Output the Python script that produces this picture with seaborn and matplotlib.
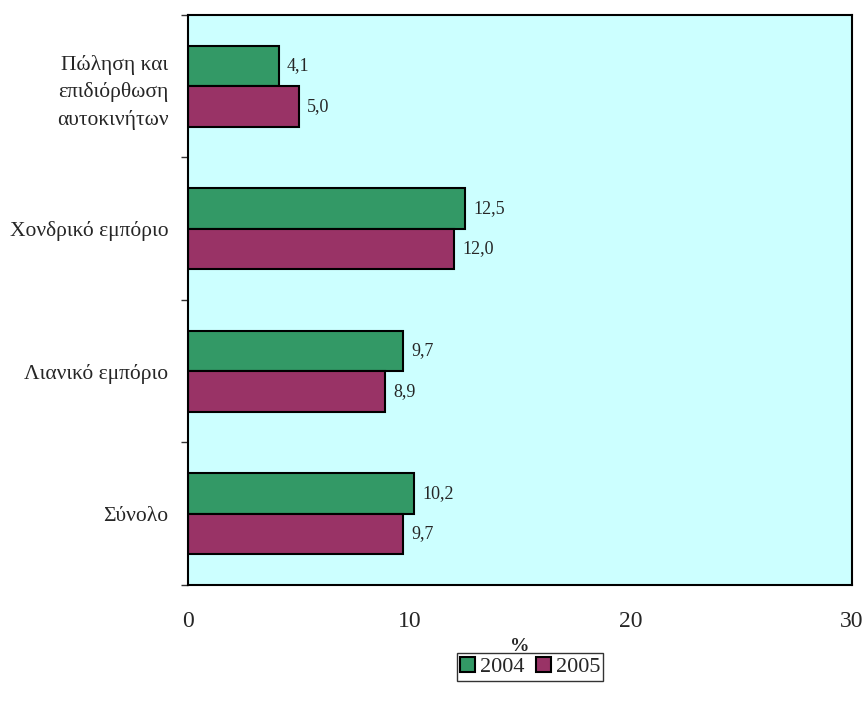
import numpy as np
import pandas as pd
import matplotlib
matplotlib.use('Agg')
import matplotlib.pyplot as plt
import seaborn as sns

sns.set_style('white')
plt.rcParams['font.family'] = ['Liberation Serif', 'DejaVu Serif']

# data
categories = ['Πώληση και\nεπιδιόρθωση\nαυτοκινήτων', 'Χονδρικό εμπόριο',
              'Λιανικό εμπόριο', 'Σύνολο']
years = ['2004', '2005']
values_2004 = [4.1, 12.5, 9.7, 10.2]
values_2005 = [5.0, 12.0, 8.9, 9.7]

df = pd.DataFrame({'Κατηγορία': categories * 2,
                   'Έτος': [years[0]] * 4 + [years[1]] * 4,
                   'value': values_2004 + values_2005})

my_palette = {'2004': '#339966', '2005': '#993366'}

fig = plt.figure(figsize=(8.65, 7.06), dpi=100)
ax = fig.add_axes([0.2173, 0.1714, 0.985 - 0.2173, 0.9788 - 0.1714])

sns.barplot(data=df, y='Κατηγορία', x='value', hue='Έτος', palette=my_palette,
            orient='h', width=0.57, edgecolor='black', linewidth=1.5,
            saturation=1, ax=ax, legend=True)

ax.set_facecolor('#CCFFFF')
for s in ax.spines.values():
    s.set_visible(True)
    s.set_color('black')
    s.set_linewidth(1.5)

ax.set_xlim(0, 30)
ax.set_ylim(3.5, -0.5)
ax.set_xticks([0, 10, 20, 30])
ax.set_xticklabels(['0', '10', '20', '30'], fontsize=17)
ax.set_yticks([0, 1, 2, 3])
ax.set_yticklabels(categories, fontsize=15.5, linespacing=1.5)
ax.tick_params(axis='y', length=0, pad=14)
ax.tick_params(axis='x', length=6, width=1, direction='out', pad=13, color='#333333')
# category boundary ticks
ax.set_yticks([-0.5, 0.5, 1.5, 2.5, 3.5], minor=True)
ax.tick_params(axis='y', which='minor', length=5, width=1, direction='out', left=True, color='#333333')
ax.set_xlabel('%', fontsize=14, fontweight='bold', labelpad=4)
ax.set_ylabel('')

for cont in ax.containers:
    labels = [f'{v:.1f}'.replace('.', ',') for v in cont.datavalues]
    ax.bar_label(cont, labels=labels, padding=6, fontsize=13)

ax.legend(loc='upper center', bbox_to_anchor=(0.515, -0.12), ncol=2,
          fontsize=16, frameon=True, fancybox=False, edgecolor='black',
          handlelength=0.7, handleheight=0.7, handletextpad=0.2,
          columnspacing=0.5, borderpad=0.15, borderaxespad=0)
ax.get_legend().get_frame().set_linewidth(1)

fig.savefig('out.png', dpi=100)
